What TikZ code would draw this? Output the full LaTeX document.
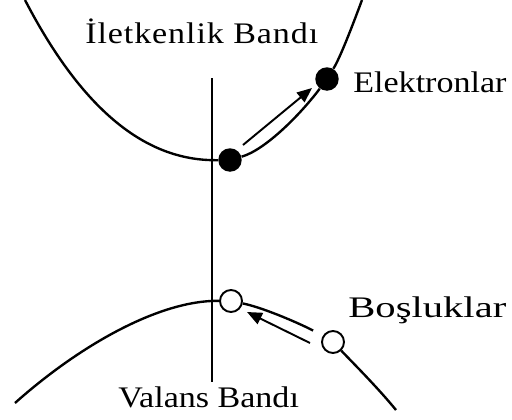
\documentclass[tikz,border=0pt]{standalone}
\usepackage{fontspec}
\setmainfont{Liberation Serif}
\newfontfamily\widefont[FakeStretch=1.14]{Liberation Serif}
\newfontfamily\topfont[FakeStretch=1.14,LetterSpace=3]{Liberation Serif}
\newfontfamily\holefont[FakeStretch=1.36]{Liberation Serif}
\usetikzlibrary{arrows.meta, positioning}

\begin{document}
\begin{tikzpicture}[
      x=0.02cm, y=-0.02cm,
      band/.style={line width=1.35pt},
      elec/.style={circle, fill=black, inner sep=0pt, minimum size=0.47cm},
      hole/.style={circle, draw, line width=1.1pt, fill=white, inner sep=0pt, minimum size=0.44cm},
      lbl/.style={anchor=base west, inner sep=0pt, font=\widefont\fontsize{17}{20}\selectfont},
      arrow/.style={-{Triangle[length=8.5pt, width=7pt]}, line width=1.1pt}
    ]
    \useasboundingbox (0,0) rectangle (512,420);

    % carriers
    \node[elec] (e1) at (230,160) {};
    \node[elec] (e2) at (327,79) {};
    \node[hole] (h1) at (231,301) {};
    \node[hole] (h2) at (333,342) {};

    % bands
    \draw[band] (25,0) .. controls (95,135) and (165,161) .. (e1)
                .. controls (265,150) and (300,115) .. (e2)
                .. controls (340,58) and (352,27) .. (362,0);
    \draw[band] (15,403) .. controls (80,345) and (160,300) .. (h1);
    \draw[band, shorten >=0.22cm] (h1) .. controls (265,308) and (305,326) .. (h2);
    \draw[band] (h2) .. controls (355,365) and (378,388) .. (396,410);

    % k = 0 axis
    \coordinate (vtop) at (212,78);
    \coordinate (vbot) at (212,382);
    \draw[line width=1.1pt] (vtop) -- (vbot);

    % motion
    \coordinate (a1) at (243,145);
    \coordinate (a2) at (312,88);
    \coordinate (b1) at (310,343);
    \coordinate (b2) at (247,312);
    \draw[arrow] (a1) -- (a2);
    \draw[arrow] (b1) -- (b2);

    % labels
    \node[lbl, font=\topfont\fontsize{17}{20}\selectfont] (cb) at (85,43) {İletkenlik Bandı};
    \node[lbl] (el) at (353,92) {Elektronlar};
    \node[lbl, font=\holefont\fontsize{17}{20}\selectfont] (bo) at (348,317) {Boşluklar};
    \node[lbl] (vb) at (118,407) {Valans Bandı};
  \end{tikzpicture}
\end{document}
